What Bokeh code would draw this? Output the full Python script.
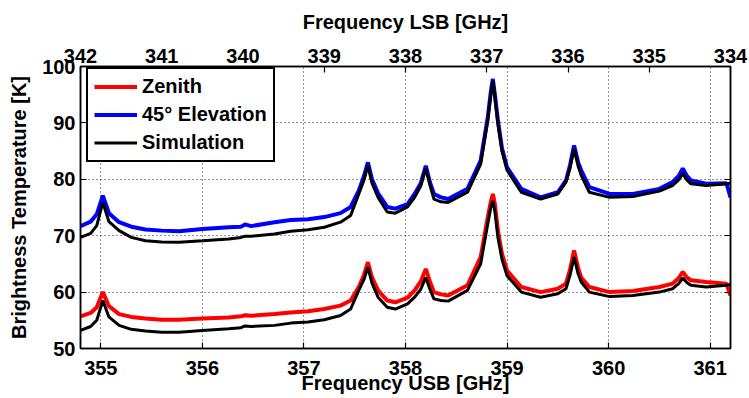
from bokeh.plotting import figure
from bokeh.models import (Range1d, LinearAxis, FixedTicker, Legend, LegendItem,
                          CustomJSTickFormatter)
from bokeh.embed import file_html
from bokeh.resources import INLINE

# ---------------- data ----------------
freq_usb = [354.80, 354.90, 354.96, 355.02, 355.08, 355.18, 355.30, 355.44, 355.60, 355.77,
            356.00, 356.26, 356.38, 356.42, 356.48, 356.71, 356.87, 357.04, 357.20, 357.36,
            357.46, 357.54, 357.59, 357.63, 357.67, 357.73, 357.82, 357.90, 358.02, 358.09,
            358.15, 358.20, 358.24, 358.28, 358.35, 358.42, 358.61, 358.74, 358.81, 358.84,
            358.86, 358.88, 358.91, 358.95, 359.00, 359.14, 359.33, 359.50, 359.58, 359.62,
            359.66, 359.70, 359.73, 359.81, 360.01, 360.24, 360.50, 360.63, 360.69, 360.73,
            360.77, 360.81, 360.96, 361.16, 361.20]

elev45 = [71.7, 72.5, 73.8, 77.1, 74.0, 72.4, 71.6, 71.1, 70.9, 70.8,
          71.2, 71.5, 71.6, 72.0, 71.7, 72.4, 72.8, 72.9, 73.3, 74.0,
          75.1, 78.0, 80.5, 83.0, 80.0, 77.5, 75.1, 74.8, 75.6, 77.4,
          79.3, 82.4, 79.5, 77.4, 76.8, 76.5, 78.3, 83.3, 91.0, 95.5,
          97.8, 95.0, 90.4, 85.5, 82.1, 78.3, 76.8, 77.7, 79.8, 82.5,
          86.0, 83.0, 81.6, 78.6, 77.4, 77.4, 78.3, 79.5, 80.6, 81.9,
          80.6, 79.8, 79.2, 79.3, 76.8]

sim_elev45 = [69.7, 70.4, 71.8, 75.9, 72.5, 70.9, 69.7, 69.1, 68.9, 68.85,
              69.1, 69.4, 69.7, 69.9, 69.9, 70.3, 70.8, 71.05, 71.5, 72.4,
              73.6, 77.4, 79.8, 82.4, 79.3, 76.8, 74.2, 74.0, 75.1, 76.8,
              78.8, 81.9, 79.0, 76.5, 76.0, 75.9, 77.7, 82.7, 90.4, 95.0,
              97.5, 94.6, 89.8, 85.0, 81.6, 77.7, 76.5, 77.4, 79.5, 82.0,
              85.4, 82.3, 80.7, 77.7, 76.8, 76.95, 77.9, 78.9, 79.9, 81.0,
              79.9, 79.2, 78.9, 79.2, 79.3]

zenith = [55.7, 56.3, 57.3, 60.0, 57.5, 56.1, 55.6, 55.3, 55.1, 55.1,
          55.3, 55.5, 55.7, 55.9, 55.8, 56.1, 56.4, 56.6, 57.0, 57.6,
          58.5, 60.9, 63.0, 65.3, 62.6, 60.3, 58.5, 58.2, 59.0, 60.3,
          61.9, 64.1, 61.9, 60.0, 59.6, 59.4, 61.2, 66.2, 73.3, 76.0,
          77.4, 75.6, 70.9, 66.8, 63.8, 60.9, 60.0, 60.6, 61.5, 64.0,
          67.4, 64.2, 62.6, 60.9, 60.0, 60.2, 60.9, 61.5, 62.5, 63.6,
          62.6, 62.1, 61.8, 61.5, 59.4]

sim_zenith = [53.2, 53.9, 55.0, 58.5, 55.6, 54.1, 53.4, 53.1, 52.9, 52.9,
              53.2, 53.5, 53.7, 54.0, 53.9, 54.1, 54.5, 54.7, 55.1, 55.85,
              57.0, 60.3, 62.2, 64.4, 61.6, 59.1, 57.3, 57.0, 57.9, 59.1,
              60.5, 62.6, 60.5, 58.8, 58.5, 58.4, 60.3, 65.0, 72.1, 75.0,
              76.2, 74.3, 69.7, 65.8, 62.9, 60.0, 59.1, 59.7, 60.6, 63.0,
              66.2, 63.2, 61.8, 60.0, 59.2, 59.4, 60.0, 60.6, 61.5, 62.5,
              61.7, 61.2, 60.9, 61.2, 61.35]

usb_ticks = [355, 356, 357, 358, 359, 360, 361]
lsb_ticks = [334, 335, 336, 337, 338, 339, 340, 341, 342]
temp_ticks = [50, 60, 70, 80, 90, 100]

usb_range = (354.8, 361.2)
lsb_range = (342, 334)
temp_range = (50, 100)

series_labels = ["Zenith", "45° Elevation", "Simulation"]

# ---------------- styling ----------------
FONT = "Liberation Sans"
FS = "20px"

p = figure(width=749, height=398,
           x_range=Range1d(*usb_range), y_range=Range1d(*temp_range),
           output_backend="svg", toolbar_location=None,
           min_border_left=80, min_border_right=19,
           min_border_top=66, min_border_bottom=50)
p.extra_x_ranges = {"lsb": Range1d(*lsb_range)}
p.background_fill_color = "white"
p.border_fill_color = "white"
p.outline_line_color = "black"
p.outline_line_width = 1.5


def style_axis(ax, standoff):
    ax.axis_line_color = "black"
    ax.axis_line_width = 1.5
    ax.major_tick_in = 6
    ax.major_tick_out = 0
    ax.major_tick_line_color = "black"
    ax.major_tick_line_width = 1.2
    ax.minor_tick_line_color = None
    ax.major_label_text_font = FONT
    ax.major_label_text_font_style = "bold"
    ax.major_label_text_font_size = FS
    ax.major_label_text_color = "black"
    ax.major_label_standoff = standoff
    ax.axis_label_text_font = FONT
    ax.axis_label_text_font_style = "bold"
    ax.axis_label_text_font_size = FS
    ax.axis_label_text_color = "black"


bottom = p.below[0]
bottom.ticker = FixedTicker(ticks=usb_ticks)
style_axis(bottom, 12)
bottom.axis_label = "Frequency USB [GHz]"
bottom.axis_label_standoff = -6

left = p.left[0]
left.ticker = FixedTicker(ticks=temp_ticks)
style_axis(left, 5)
left.axis_label = "Brightness Temperature [K]"
left.axis_label_standoff = 9

top = LinearAxis(x_range_name="lsb", ticker=FixedTicker(ticks=lsb_ticks),
                 axis_label="Frequency LSB [GHz]")
style_axis(top, 4)
top.axis_label_standoff = 13
p.add_layout(top, "above")

right = LinearAxis(ticker=FixedTicker(ticks=temp_ticks),
                   formatter=CustomJSTickFormatter(code="return ''"))
style_axis(right, 0)
p.add_layout(right, "right")

for g in (p.xgrid[0], p.ygrid[0]):
    g.grid_line_color = "black"
    g.grid_line_dash = "1 3"
    g.grid_line_width = 1
    g.grid_line_alpha = 0.85

# ---------------- lines ----------------
r_zen = p.line(freq_usb, zenith, line_color="#ff0000", line_width=4)
r_elev = p.line(freq_usb, elev45, line_color="#0000ff", line_width=4)
r_sim1 = p.line(freq_usb, sim_zenith, line_color="black", line_width=3)
r_sim2 = p.line(freq_usb, sim_elev45, line_color="black", line_width=3)

legend = Legend(items=[LegendItem(label=series_labels[0], renderers=[r_zen]),
                       LegendItem(label=series_labels[1], renderers=[r_elev]),
                       LegendItem(label=series_labels[2], renderers=[r_sim1])],
                location=(6, 186))
legend.label_text_font = FONT
legend.label_text_font_style = "bold"
legend.label_text_font_size = FS
legend.label_text_color = "black"
legend.border_line_color = "black"
legend.border_line_width = 2
legend.border_line_alpha = 1
legend.background_fill_color = "white"
legend.background_fill_alpha = 1
legend.padding = 6
legend.spacing = 5
legend.margin = 0
legend.glyph_width = 43
legend.glyph_height = 23
legend.label_height = 23
legend.label_standoff = 5
p.add_layout(legend, "center")

open("out.html", "w").write(file_html(p, INLINE))
